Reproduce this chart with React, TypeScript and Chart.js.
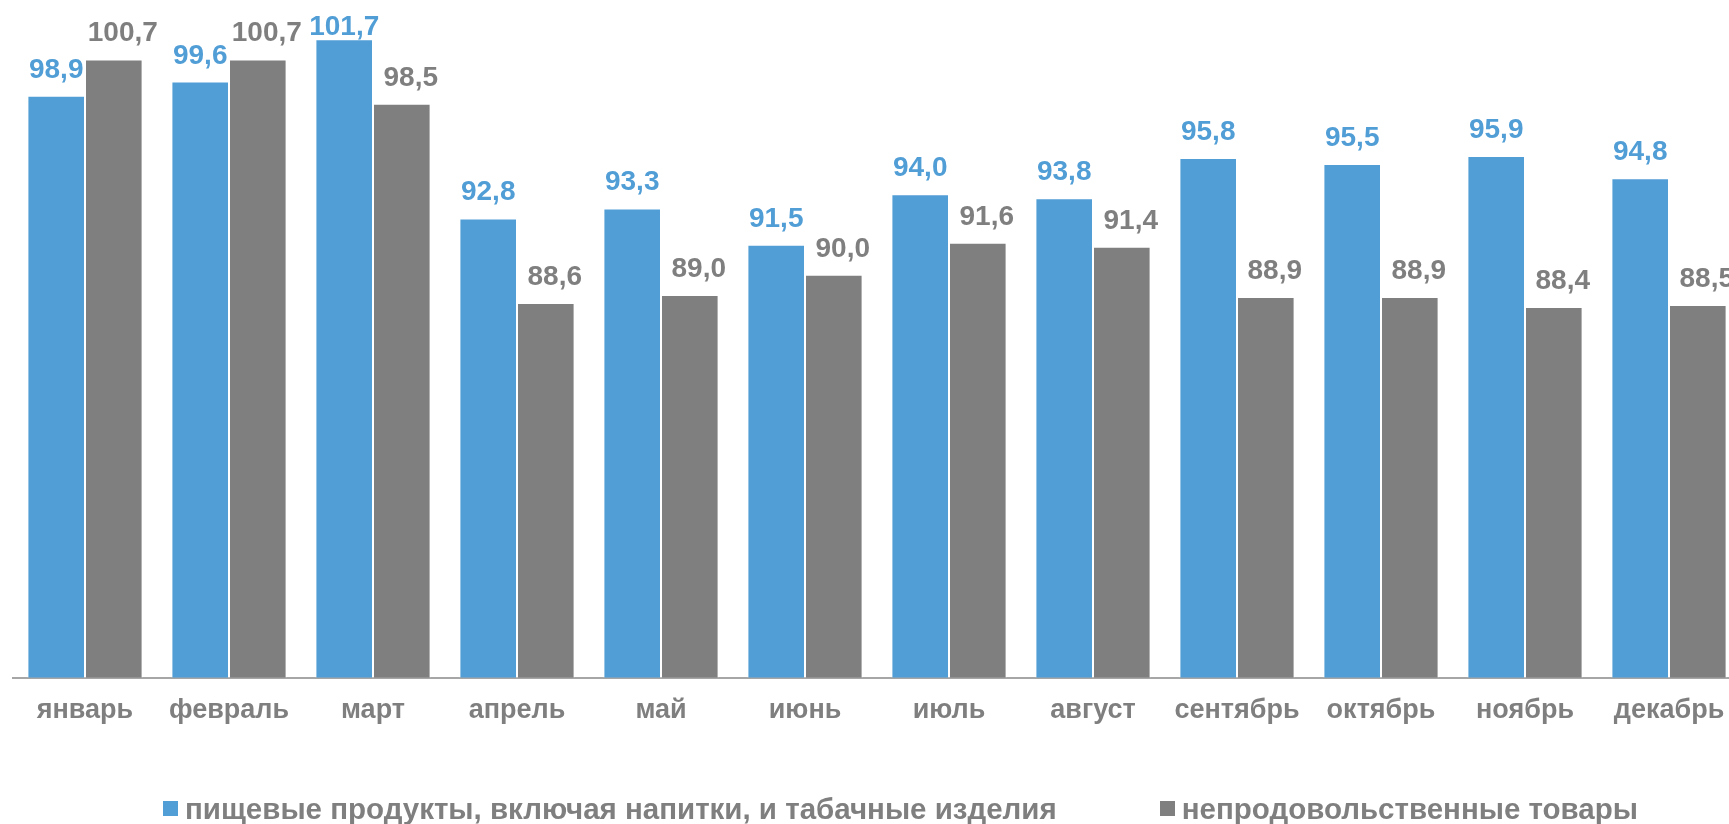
import React, { useEffect, useRef } from "react";
import { Chart, registerables } from "chart.js";

Chart.register(...registerables);

const categories = [
  "январь",
  "февраль",
  "март",
  "апрель",
  "май",
  "июнь",
  "июль",
  "август",
  "сентябрь",
  "октябрь",
  "ноябрь",
  "декабрь",
];
const foodValues = [98.9, 99.6, 101.7, 92.8, 93.3, 91.5, 94.0, 93.8, 95.8, 95.5, 95.9, 94.8];
const nonFoodValues = [100.7, 100.7, 98.5, 88.6, 89.0, 90.0, 91.6, 91.4, 88.9, 88.9, 88.4, 88.5];
const seriesNames = [
  "пищевые продукты, включая напитки, и табачные изделия",
  "непродовольственные товары",
];
const seriesColors = ["#519ed6", "#7f7f7f"];

const FONT = '"Liberation Sans", Arial, Helvetica, sans-serif';
const TEXT_GRAY = "#7f7f7f";
// horizontal label shift per series (style, px)
const LABEL_SHIFT = [0, 9];

const fmt = (v: number) => v.toFixed(1).replace(".", ",");

const valueLabels = {
  id: "valueLabels",
  afterDatasetsDraw(chart: any) {
    const ctx = chart.ctx;
    ctx.save();
    ctx.font = `bold 28px ${FONT}`;
    ctx.textAlign = "center";
    ctx.textBaseline = "alphabetic";
    chart.data.datasets.forEach((ds: any, i: number) => {
      const meta = chart.getDatasetMeta(i);
      ctx.fillStyle = seriesColors[i];
      meta.data.forEach((bar: any, j: number) => {
        const y = Math.max(bar.y - 18, 35);
        ctx.fillText(fmt(ds.data[j]), bar.x + LABEL_SHIFT[i], y);
      });
    });
    ctx.restore();
  },
};

export default function App() {
  const canvasRef = useRef<HTMLCanvasElement | null>(null);

  useEffect(() => {
    if (!canvasRef.current) return;
    const chart = new Chart(canvasRef.current, {
      type: "bar",
      data: {
        labels: categories,
        datasets: [
          {
            label: seriesNames[0],
            data: foodValues,
            backgroundColor: seriesColors[0],
            borderColor: "rgba(255,255,255,0.45)",
            borderWidth: 1,
          },
          {
            label: seriesNames[1],
            data: nonFoodValues,
            backgroundColor: seriesColors[1],
            borderColor: "rgba(255,255,255,0.45)",
            borderWidth: 1,
          },
        ],
      },
      options: {
        animation: false,
        responsive: false,
        devicePixelRatio: 1,
        layout: { padding: { left: 13, right: 13, top: 3, bottom: 80 } },
        datasets: { bar: { categoryPercentage: 0.8, barPercentage: 1.0 } },
        plugins: { legend: { display: false }, tooltip: { enabled: false } },
        scales: {
          x: {
            grid: { display: false, drawTicks: false },
            border: { display: true, color: "#a6a6a6", width: 2 },
            ticks: {
              color: TEXT_GRAY,
              font: { family: FONT, size: 27, weight: "bold", lineHeight: 1.2 },
              padding: 17,
              maxRotation: 0,
              autoSkip: false,
            },
          },
          y: { display: false, min: 70, max: 103.5 },
        },
      },
      plugins: [valueLabels],
    } as any);
    return () => chart.destroy();
  }, []);

  const legendText: React.CSSProperties = {
    font: `bold 29.5px ${FONT}`,
    lineHeight: "29px",
    color: TEXT_GRAY,
    whiteSpace: "nowrap",
  };
  const box = (c: string): React.CSSProperties => ({
    width: 15,
    height: 15,
    background: c,
    marginRight: 7,
    flex: "none",
  });

  return (
    <div
      style={{
        position: "fixed",
        left: 0,
        top: 0,
        width: 1729,
        height: 824,
        overflow: "hidden",
        background: "#fff",
      }}
    >
      <div style={{ position: "relative", width: 1754, height: 824 }}>
        <canvas ref={canvasRef} width={1754} height={824} style={{ display: "block" }} />
        <div
          style={{
            position: "absolute",
            left: 163,
            top: 794,
            height: 29,
            display: "flex",
            alignItems: "center",
          }}
        >
          <div style={{ display: "flex", alignItems: "center" }}>
            <div style={box(seriesColors[0])} />
            <span style={legendText}>{seriesNames[0]}</span>
          </div>
          <div style={{ display: "flex", alignItems: "center", marginLeft: 103 }}>
            <div style={box(seriesColors[1])} />
            <span style={legendText}>{seriesNames[1]}</span>
          </div>
        </div>
      </div>
    </div>
  );
}
